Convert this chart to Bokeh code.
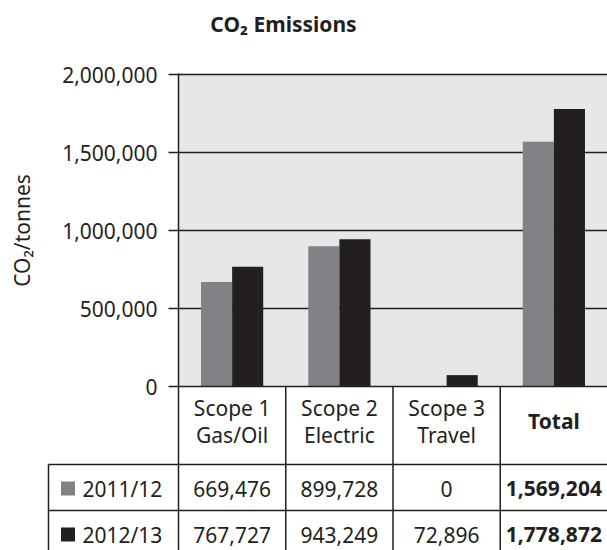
import math
from bokeh.plotting import figure
from bokeh.models import (Range1d, FixedTicker, NumeralTickFormatter, BoxAnnotation,
                          ColumnDataSource)
from bokeh.embed import file_html
from bokeh.resources import INLINE
from bokeh.core.properties import value

# ---- data ----
categories = ["Scope 1 Gas/Oil", "Scope 2 Electric", "Scope 3 Travel", "Total"]
header_labels = ["Scope 1\nGas/Oil", "Scope 2\nElectric", "Scope 3\nTravel", "Total"]
years = ["2011/12", "2012/13"]
emissions_2011 = [669476, 899728, 0, 1569204]
emissions_2012 = [767727, 943249, 72896, 1778872]
y_ticks = [0, 500000, 1000000, 1500000, 2000000]
title_text = "CO₂ Emissions"
y_label = "CO₂/tonnes"

# ---- style / layout (pixel constants) ----
FONT = "Noto Sans"
INK = "#231f20"
GRAY = "#808285"
BG = "#e6e7e8"
W, H = 607, 550
LEFT = 178          # plot-area left edge
TOP = 73            # plot-area top edge
ZERO_PX = 386       # pixel row of y = 0
TBL_LEFT = 48
HEADER_BOTTOM = 464
ROW_H = 46
FS = "21px"
BAR_W = 0.29

ncat = len(categories)
col_w = (W - LEFT) / ncat
def px2x(px):
    return (px - LEFT) / col_w

y_max = y_ticks[-1]
upp = y_max / (ZERO_PX - TOP - 1)          # data units per pixel
y_top = (ZERO_PX - TOP) * upp              # value at plot-area top edge
y_lo = -(H - ZERO_PX) * upp
y_hi = ZERO_PX * upp

p = figure(width=W, height=H, x_range=Range1d(px2x(0), ncat), y_range=Range1d(y_lo, y_hi),
           output_backend="svg", toolbar_location=None,
           min_border_left=0, min_border_right=0, min_border_top=0, min_border_bottom=0)
p.extra_y_ranges = {"px": Range1d(H, 0)}   # layout coordinates (pixels from top)
p.background_fill_color = "white"
p.border_fill_color = "white"
p.outline_line_color = None

# plot-area background
p.add_layout(BoxAnnotation(left=0, bottom=0, top=y_top, fill_color=BG, fill_alpha=1,
                           line_color=None, level="image"))

# ---- grid ----
p.xgrid.visible = False
p.ygrid.ticker = FixedTicker(ticks=y_ticks[1:])
p.ygrid.grid_line_color = INK
p.ygrid.grid_line_width = 1.5
try:
    p.ygrid.cross_bounds = (0, ncat)
except Exception:
    p.ygrid.visible = False
    p.segment(x0=[0] * (len(y_ticks) - 1), y0=y_ticks[1:], x1=[ncat] * (len(y_ticks) - 1),
              y1=y_ticks[1:], line_color=INK, line_width=1.5)

# ---- bars ----
centers = [i + 0.5 for i in range(ncat)]
src = ColumnDataSource(dict(x0=[c - BAR_W / 2 for c in centers],
                            x1=[c + BAR_W / 2 for c in centers],
                            y2011=emissions_2011, y2012=emissions_2012))
p.vbar(x="x0", top="y2011", width=BAR_W, source=src, fill_color=GRAY, line_color=None)
p.vbar(x="x1", top="y2012", width=BAR_W, source=src, fill_color=INK, line_color=None)

# ---- axes ----
p.xaxis.visible = False
ya = p.yaxis[0]
ya.fixed_location = 0
ya.bounds = (y_lo, y_top)
ya.ticker = FixedTicker(ticks=y_ticks, minor_ticks=[])
ya.formatter = NumeralTickFormatter(format="0,0")
ya.major_label_text_font = FONT
ya.major_label_text_font_size = FS
ya.major_label_text_color = INK
ya.major_label_standoff = 11
ya.major_tick_out = 10
ya.major_tick_in = 0
ya.major_tick_line_color = INK
ya.major_tick_line_width = 1.5
ya.axis_line_color = INK
ya.axis_line_width = 1.5

# title and y-axis title
p.text(x=[px2x(283)], y=[23], text=[title_text], text_font=value(FONT), text_font_size=FS,
       text_font_style="bold", text_color=INK, text_align="center", text_baseline="middle",
       y_range_name="px")
p.text(x=[px2x(21)], y=[230], text=[y_label], angle=math.pi / 2, text_font=value(FONT),
       text_font_size=FS, text_color=INK, text_align="center", text_baseline="middle",
       y_range_name="px")

# ---- table ----
row_tops = [HEADER_BOTTOM + ROW_H * r for r in range(len(years))]
row_centers = [t + ROW_H / 2 + 1 for t in row_tops]
tbl_bottom = HEADER_BOTTOM + ROW_H * len(years)

# horizontal rules
p.segment(x0=[0] + [px2x(TBL_LEFT)] * len(row_tops), y0=[ZERO_PX] + row_tops,
          x1=[ncat] * (len(row_tops) + 1), y1=[ZERO_PX] + row_tops,
          line_color=INK, line_width=1.5, y_range_name="px")
# vertical rules
vx = [px2x(TBL_LEFT)] + list(range(1, ncat))
vy0 = [HEADER_BOTTOM] + [ZERO_PX] * (ncat - 1)
p.segment(x0=vx, y0=vy0, x1=vx, y1=[tbl_bottom] * len(vx), line_color=INK, line_width=1.5,
          y_range_name="px")

header_y = (ZERO_PX + HEADER_BOTTOM) / 2 - 4
p.text(x=centers[:-1], y=[header_y] * (ncat - 1), text=header_labels[:-1],
       text_font=value(FONT), text_font_size=FS, text_color=INK, text_align="center",
       text_baseline="middle", text_line_height=0.95, y_range_name="px")
p.text(x=[centers[-1]], y=[header_y - 1], text=[header_labels[-1]], text_font=value(FONT),
       text_font_size=FS, text_font_style="bold", text_color=INK, text_align="center",
       text_baseline="middle", y_range_name="px")

series_colors = [GRAY, INK]
for r, vals in enumerate([emissions_2011, emissions_2012]):
    labels = [f"{v:,}" for v in vals]
    p.text(x=centers[:-1], y=[row_centers[r]] * (ncat - 1), text=labels[:-1],
           text_font=value(FONT), text_font_size=FS, text_color=INK, text_align="center",
           text_baseline="middle", y_range_name="px")
    p.text(x=[centers[-1]], y=[row_centers[r]], text=[labels[-1]], text_font=value(FONT),
           text_font_size=FS, text_font_style="bold", text_color=INK, text_align="center",
           text_baseline="middle", y_range_name="px")

p.scatter(x=[px2x(67.5)] * len(years), y=row_centers, marker="square", size=14,
          fill_color=series_colors, line_color=None, y_range_name="px")
p.text(x=[px2x(82)] * len(years), y=row_centers, text=years, text_font=value(FONT),
       text_font_size=FS, text_color=INK, text_align="left", text_baseline="middle",
       y_range_name="px")

open("out.html", "w").write(file_html(p, INLINE))
